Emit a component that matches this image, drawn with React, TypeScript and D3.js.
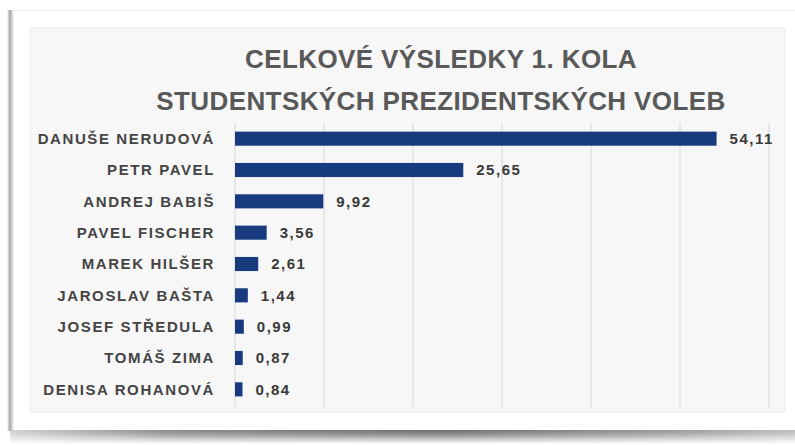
import React from "react";
import * as d3 from "d3";

const candidates = [
  "DANUŠE NERUDOVÁ",
  "PETR PAVEL",
  "ANDREJ BABIŠ",
  "PAVEL FISCHER",
  "MAREK HILŠER",
  "JAROSLAV BAŠTA",
  "JOSEF STŘEDULA",
  "TOMÁŠ ZIMA",
  "DENISA ROHANOVÁ",
];
const results = [54.11, 25.65, 9.92, 3.56, 2.61, 1.44, 0.99, 0.87, 0.84];
const gridTicks = [0, 10, 20, 30, 40, 50, 60];
const titleLines = ["CELKOVÉ VÝSLEDKY 1. KOLA", "STUDENTSKÝCH PREZIDENTSKÝCH VOLEB"];

const W = 795;
const H = 445;
const FONT = "'Liberation Sans', Arial, sans-serif";

export default function App() {
  const x = d3.scaleLinear().domain([0, 60]).range([235, 769]);
  const y = d3
    .scaleBand<string>()
    .domain(candidates)
    .range([123, 405])
    .paddingInner(0.55)
    .paddingOuter(0.275);
  const fmt = (v: number) => v.toFixed(2).replace(".", ",");

  return (
    <svg
      width={W}
      height={H}
      style={{ position: "absolute", left: 0, top: 0, display: "block" }}
    >
      <defs>
        <linearGradient id="leftShadow" x1="0" x2="1" y1="0" y2="0">
          <stop offset="0" stopColor="#ffffff" />
          <stop offset="0.4" stopColor="#a8a8a8" />
          <stop offset="0.7" stopColor="#d0d0d0" />
          <stop offset="1" stopColor="#ffffff" />
        </linearGradient>
        <linearGradient id="bottomH" x1="0" x2="1" y1="0" y2="0">
          <stop offset="0" stopColor="#d0d0d0" />
          <stop offset="0.2" stopColor="#8a8a8a" />
          <stop offset="0.55" stopColor="#6e6e6e" />
          <stop offset="0.85" stopColor="#9a9a9a" />
          <stop offset="1" stopColor="#bdbdbd" />
        </linearGradient>
        <linearGradient id="bottomV" x1="0" x2="0" y1="0" y2="1">
          <stop offset="0" stopColor="#ffffff" stopOpacity="1" />
          <stop offset="0.3" stopColor="#ffffff" stopOpacity="0.8" />
          <stop offset="1" stopColor="#ffffff" stopOpacity="0" />
        </linearGradient>
        <mask id="bottomMask">
          <rect x={0} y={430} width={W} height={14} fill="url(#bottomV)" />
        </mask>
      </defs>

      <rect x={0} y={0} width={W} height={H} fill="#ffffff" />
      {/* card */}
      <rect x={7} y={10} width={7} height={421} fill="url(#leftShadow)" />
      <line x1={12} x2={W} y1={10.5} y2={10.5} stroke="#ececec" strokeWidth={1} />
      <rect x={10} y={430} width={W - 10} height={14} fill="url(#bottomH)" mask="url(#bottomMask)" />

      {/* chart area */}
      <rect x={30} y={28} width={755} height={384} fill="#f7f7f7" stroke="#ebebeb" strokeWidth={1} />

      {/* title */}
      {titleLines.map((t, i) => (
        <text
          key={t}
          x={441}
          y={68 + i * 42}
          textAnchor="middle"
          fontFamily={FONT}
          fontWeight="bold"
          fontSize={26}
          letterSpacing={0.4}
          fill="#595959"
        >
          {t}
        </text>
      ))}

      {/* gridlines */}
      {gridTicks.map((t) => (
        <line
          key={t}
          x1={x(t)}
          x2={x(t)}
          y1={123}
          y2={407}
          stroke="#dcdcdc"
          strokeWidth={1.2}
        />
      ))}

      {/* bars */}
      {candidates.map((c, i) => {
        const yy = y(c)!;
        const bh = y.bandwidth();
        const cy = yy + bh / 2;
        return (
          <g key={c}>
            <rect
              x={x(0)}
              y={yy}
              width={x(results[i]) - x(0)}
              height={bh}
              fill="#183b80"
            />
            <text
              x={215}
              y={cy}
              dy="0.36em"
              textAnchor="end"
              fontFamily={FONT}
              fontWeight="bold"
              fontSize={15}
              letterSpacing={1.6}
              fill="#444444"
            >
              {c}
            </text>
            <text
              x={x(results[i]) + 13}
              y={cy}
              dy="0.36em"
              fontFamily={FONT}
              fontWeight="bold"
              fontSize={15}
              letterSpacing={1.5}
              fill="#3a3a3a"
            >
              {fmt(results[i])}
            </text>
          </g>
        );
      })}
    </svg>
  );
}
